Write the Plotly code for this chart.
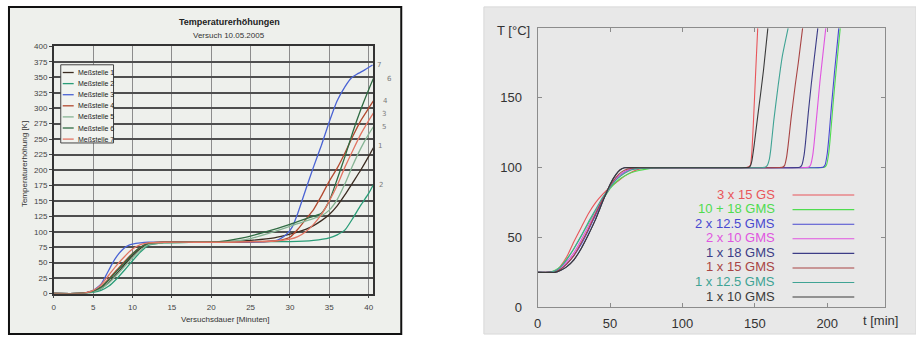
import plotly.graph_objects as go

W, H = 916, 343

# ---------------- Left chart data (scanned Excel chart) ----------------
left_names = ["Meßstelle 1", "Meßstelle 2", "Meßstelle 3", "Meßstelle 4",
              "Meßstelle 5", "Meßstelle 6", "Meßstelle 7"]
left_colors = ["#3b2c22", "#2a9d78", "#4a63d4", "#b24a30", "#86b494", "#2f6b42", "#e27563"]

m1_t = [0, 3, 4, 5, 6, 7, 8, 9, 10, 11, 12, 14, 18, 22, 25, 28, 30, 32, 33, 34, 35, 36, 37, 38, 39, 40, 40.6]
m1_T = [0, 0, 1, 3, 8, 18, 32, 47, 61, 73, 80, 83, 83, 84, 86, 90, 96, 104, 110, 118, 128, 142, 160, 180, 200, 222, 236]
m2_t = [0, 3, 4, 5, 6, 7, 8, 9, 10, 11, 12, 14, 18, 22, 26, 30, 33, 35, 36, 37, 38, 39, 40, 40.6]
m2_T = [0, 0, 0.5, 2, 5, 12, 24, 38, 53, 67, 78, 82, 83, 84, 84, 84, 86, 90, 95, 103, 122, 143, 162, 176]
m3_t = [0, 3, 4, 5, 6, 6.5, 7, 7.5, 8, 8.5, 9, 9.5, 10, 11, 12, 15, 20, 25, 27, 28.5, 29.5, 30.3, 31, 32, 33, 34, 35, 36, 37, 37.8, 38.5, 39.5, 40.5]
m3_T = [0, 0, 1, 5, 15, 26, 38, 50, 60, 68, 74, 78, 80, 82, 83, 83, 83, 83, 84, 87, 95, 108, 130, 168, 205, 240, 278, 312, 335, 349, 355, 362, 370]
m4_t = [0, 3, 4, 5, 6, 7, 8, 9, 10, 11, 12, 14, 18, 22, 26, 28, 29, 30, 31, 32, 33, 34, 35, 36, 37, 38, 39, 40, 40.6]
m4_T = [0, 0, 1, 4, 11, 24, 38, 52, 65, 75, 81, 83, 83, 83, 84, 85, 87, 91, 104, 120, 136, 158, 182, 203, 228, 255, 280, 300, 312]
m5_t = [0, 3, 4, 5, 6, 7, 8, 9, 10, 11, 12, 14, 18, 22, 25, 28, 31, 34, 35, 36, 37, 38, 39, 40, 40.6]
m5_T = [0, 0, 0.5, 3, 8, 17, 30, 44, 58, 70, 79, 82, 83, 84, 89, 100, 113, 126, 135, 152, 178, 208, 235, 258, 270]
m6_t = [0, 3, 4, 5, 6, 7, 8, 9, 10, 11, 12, 14, 18, 21, 24, 27, 30, 32, 34, 35, 36, 37, 38, 39, 40, 40.6]
m6_T = [0, 0, 1, 4, 10, 22, 36, 50, 64, 75, 81, 83, 83, 84, 90, 100, 112, 121, 130, 150, 185, 222, 262, 298, 330, 348]
m7_t = [0, 3, 4, 5, 6, 7, 8, 9, 10, 11, 12, 14, 18, 22, 26, 28, 30, 31, 32, 33, 34, 35, 36, 37, 38, 39, 40, 40.6]
m7_T = [0, 0, 1, 5, 14, 30, 46, 60, 72, 79, 82, 83, 83, 83, 84, 85, 88, 92, 100, 112, 128, 150, 175, 205, 232, 258, 280, 292]
left_series = [(m1_t, m1_T), (m2_t, m2_T), (m3_t, m3_T), (m4_t, m4_T),
               (m5_t, m5_T), (m6_t, m6_T), (m7_t, m7_T)]
left_xticks = [0, 5, 10, 15, 20, 25, 30, 35, 40]
left_yticks = list(range(0, 401, 25))
hand_labels = ["7", "6", "4", "3", "5", "1", "2"]

# ---------------- Right chart data ----------------
right_names = ["3 x 15 GS", "10 + 18 GMS", "2 x 12.5 GMS", "2 x 10 GMS",
               "1 x 18 GMS", "1 x 15 GMS", "1 x 12.5 GMS", "1 x 10 GMS"]
right_colors = ["#e8555a", "#4fdc4f", "#4848d0", "#e055e0", "#3c3c86", "#a84444", "#3fa394", "#3a3a3a"]

r_red_t = [0, 5, 10, 14, 20, 25, 30, 35, 40, 45, 50, 55, 60, 65, 70, 80, 100, 130, 145, 147, 148, 149, 150, 151, 152]
r_red_T = [25, 25, 25.5, 27, 36, 47, 57, 67, 75, 81, 86, 90, 94, 97, 99, 100, 100, 100, 100.3, 102, 112, 132, 155, 178, 200]
r_grn_t = [0, 8, 12, 16, 20, 25, 30, 35, 40, 45, 50, 55, 60, 65, 70, 75, 80, 100, 190, 198, 199.5, 201, 202, 204, 206, 209]
r_grn_T = [25, 25, 26.5, 29.5, 34.5, 42, 51, 60, 69, 77, 85, 90.5, 94, 96.5, 98, 99, 99.7, 100, 100, 100.3, 102, 110, 120, 145, 168, 200]
r_blu_t = [0, 8, 12, 16, 20, 25, 30, 35, 40, 45, 50, 55, 60, 65, 70, 100, 190, 197, 198.5, 200, 201, 203, 205, 208]
r_blu_T = [25, 25, 25.5, 27.5, 31, 37, 45, 55, 66, 77, 86, 93, 97, 99, 100, 100, 100, 100.3, 102, 110, 120, 145, 168, 200]
r_mag_t = [0, 8, 12, 16, 20, 25, 30, 35, 40, 45, 50, 55, 60, 65, 70, 100, 180, 187, 188.5, 190, 191, 193, 195, 197, 199]
r_mag_T = [25, 25, 26, 28.5, 32.5, 39, 48, 58, 68, 78, 86, 93, 97, 99, 100, 100, 100, 100.3, 102, 109, 118, 140, 162, 181, 200]
r_nav_t = [0, 8, 12, 16, 20, 25, 30, 35, 40, 45, 50, 54, 57, 60, 70, 100, 170, 181, 182.5, 184, 185, 187, 189, 191, 193.5]
r_nav_T = [25, 25, 25, 26.5, 29, 34, 42, 52, 63, 76, 88, 95, 98.5, 100, 100, 100, 100, 100.3, 102, 109, 118, 140, 160, 178, 200]
r_brn_t = [0, 8, 12, 16, 20, 25, 30, 35, 40, 45, 50, 54, 58, 62, 70, 100, 160, 169, 170.5, 172, 173, 175, 178, 180, 183]
r_brn_T = [25, 25, 25.5, 27.5, 31, 37, 46, 56, 67, 78, 87, 93, 97, 99, 100, 100, 100, 100.3, 101.5, 108, 116, 135, 160, 175, 200]
r_tea_t = [0, 8, 12, 16, 20, 25, 30, 35, 40, 45, 50, 55, 60, 65, 70, 80, 100, 150, 157, 158.5, 160, 161, 163, 166, 169, 173]
r_tea_T = [25, 25, 26, 29, 34, 42, 51, 61, 70, 79, 86, 92, 96, 98.5, 99.5, 100, 100, 100, 100.3, 101.5, 106, 113, 133, 158, 180, 200]
r_blk_t = [0, 8, 12, 16, 20, 25, 30, 35, 40, 45, 50, 54, 57, 60, 70, 100, 140, 146, 147, 148, 149, 150, 152, 154, 156, 159]
r_blk_T = [25, 25, 25, 26.5, 29, 34, 42, 52, 63, 76, 88, 95, 98.5, 100, 100, 100, 100, 100.3, 101.5, 105, 112, 120, 137, 153, 170, 200]
right_series = [(r_red_t, r_red_T), (r_grn_t, r_grn_T), (r_blu_t, r_blu_T), (r_mag_t, r_mag_T),
                (r_nav_t, r_nav_T), (r_brn_t, r_brn_T), (r_tea_t, r_tea_T), (r_blk_t, r_blk_T)]
right_xticks = [0, 50, 100, 150, 200]
right_yticks = [0, 50, 100, 150]


def X(px):
    return px / W


def Y(py):
    return 1 - py / H


def ann(px, py, text, font, xanchor="center", **kw):
    return dict(x=X(px), y=Y(py), xref="paper", yref="paper", text=text, showarrow=False,
                xanchor=xanchor, yanchor="middle", font=font, **kw)


fig = go.Figure()

for (t, T), c, n in zip(right_series, right_colors, right_names):
    fig.add_trace(go.Scatter(x=t, y=T, mode="lines", name=n, xaxis="x2", yaxis="y2",
                             line=dict(color=c, width=1.1, shape="spline", smoothing=0.4),
                             showlegend=False, hoverinfo="skip"))

for (t, T), c, n in zip(left_series, left_colors, left_names):
    fig.add_trace(go.Scatter(x=t, y=T, mode="lines", name=n, xaxis="x", yaxis="y",
                             line=dict(color=c, width=1.3, shape="spline", smoothing=0.5),
                             showlegend=False, hoverinfo="skip"))

shapes = []
shapes.append(dict(type="rect", xref="paper", yref="paper", x0=X(5), x1=X(399), y0=Y(342), y1=Y(3),
                   fillcolor="#eef0ec", line=dict(color="#111111", width=2), layer="below"))
shapes.append(dict(type="rect", xref="paper", yref="paper", x0=X(482), x1=X(916), y0=Y(342), y1=Y(3),
                   fillcolor="#e8e8e8", line=dict(color="#d8d8d8", width=1), layer="below"))

lx0, lx1, ly0, ly1 = 57, 110, 63, 144
shapes.append(dict(type="rect", xref="paper", yref="paper", x0=X(lx0), x1=X(lx1), y0=Y(ly1), y1=Y(ly0),
                   fillcolor="#f1f3ef", line=dict(color="#444444", width=1), layer="above"))
annotations = []
leg_font = dict(family="Liberation Sans, Arial", size=7, color="#222222")
for i, (n, c) in enumerate(zip(left_names, left_colors)):
    yy = 71 + i * 11.5
    shapes.append(dict(type="line", xref="paper", yref="paper", x0=X(59), x1=X(70), y0=Y(yy), y1=Y(yy),
                       line=dict(color=c, width=1.3), layer="above"))
    annotations.append(ann(72, yy, n, leg_font, xanchor="left"))

for i, (n, c) in enumerate(zip(right_names, right_colors)):
    yy = 197 + i * 15.1
    annotations.append(ann(776, yy, n, dict(family="Liberation Sans, Arial", size=13, color=c), xanchor="right"))
    shapes.append(dict(type="line", xref="paper", yref="paper", x0=X(792), x1=X(854), y0=Y(yy + 1), y1=Y(yy + 1),
                       line=dict(color=c, width=1.1), layer="above"))

annotations += [
    ann(226, 19, "<b>Temperaturerhöhungen</b>", dict(family="Liberation Sans, Arial", size=9, color="#222222")),
    ann(226, 33, "Versuch 10.05.2005", dict(family="Liberation Sans, Arial", size=8, color="#333333")),
    ann(222, 327, "Versuchsdauer [Minuten]", dict(family="Liberation Sans, Arial", size=8, color="#333333")),
    ann(20, 166, "Temperaturerhöhung [K]", dict(family="Liberation Sans, Arial", size=8, color="#333333"),
        textangle=-90),
]
hand_pos = [(377, 63), (387, 78), (383, 100), (382, 114), (382, 127), (378, 147), (379, 188)]
for lab, (hx, hy) in zip(hand_labels, hand_pos):
    annotations.append(ann(hx, hy, lab, dict(family="DejaVu Sans", size=7, color="#7a7a7a")))

annotations += [
    ann(512, 27, "T [°C]", dict(family="Liberation Sans, Arial", size=13, color="#333333")),
    ann(880, 328, "t [min]", dict(family="Liberation Sans, Arial", size=13, color="#333333")),
]

small_font = dict(family="Liberation Sans, Arial", size=8, color="#444444")
big_font = dict(family="Liberation Sans, Arial", size=13, color="#333333")

fig.update_layout(
    width=W, height=H, autosize=False,
    margin=dict(l=0, r=0, t=0, b=0),
    paper_bgcolor="#ffffff", plot_bgcolor="rgba(0,0,0,0)",
    showlegend=False,
    shapes=shapes, annotations=annotations,
    xaxis=dict(domain=[X(50), X(371)], range=[0, 40.6], tickvals=left_xticks, tickfont=small_font,
               showgrid=True, gridcolor="#8c8c8c", gridwidth=1, zeroline=False,
               showline=True, linecolor="#333333", linewidth=1.5, mirror=True,
               ticks="outside", ticklen=3, tickcolor="#444444", anchor="y",
               ticklabelstandoff=2),
    yaxis=dict(domain=[Y(300), Y(44)], range=[0, 400], tickvals=left_yticks, tickfont=small_font,
               showgrid=True, gridcolor="#4e4e4e", gridwidth=1.5, zeroline=False,
               showline=True, linecolor="#333333", linewidth=1.5, mirror=True,
               ticks="outside", ticklen=3, tickcolor="#444444", anchor="x"),
    xaxis2=dict(domain=[X(536), X(885)], range=[0, 240], tickvals=right_xticks, tickfont=big_font,
                showgrid=False, zeroline=False, showline=True, linecolor="#8c8c8c", linewidth=1,
                mirror="ticks", ticks="inside", ticklen=4, tickcolor="#8c8c8c", anchor="y2",
                ticklabelstandoff=4),
    yaxis2=dict(domain=[Y(314.3), Y(25)], range=[0, 200], tickvals=right_yticks, tickfont=big_font,
                showgrid=False, zeroline=False, showline=True, linecolor="#8c8c8c", linewidth=1,
                mirror="ticks", ticks="inside", ticklen=4, tickcolor="#8c8c8c", anchor="x2",
                ticklabelstandoff=12),
)

fig.write_html("out.html", config={"displayModeBar": False},
               post_script="document.body.style.margin='0px';document.body.style.overflow='hidden';")
